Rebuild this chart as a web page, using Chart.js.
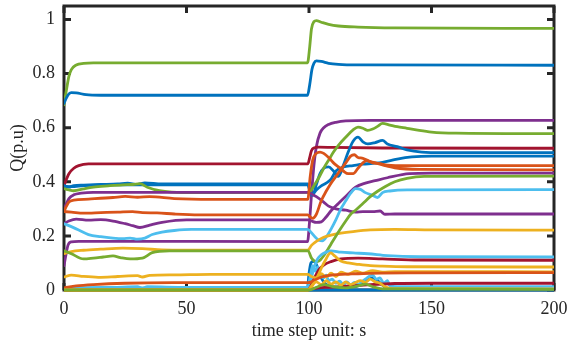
<!DOCTYPE html>
<html>
<head>
<meta charset="utf-8">
<script src="https://cdn.jsdelivr.net/npm/chart.js@4/dist/chart.umd.min.js"></script>
<style>
  html, body { margin: 0; padding: 0; background: #fff; }
  #wrap { width: 568px; height: 348px; position: relative; }
</style>
</head>
<body>
<div id="wrap"><canvas id="qChart"></canvas></div>
<script>
// axis ticks
const xTicks = [0, 50, 100, 150, 200];
const yTicks = [0, 0.2, 0.4, 0.6, 0.8, 1];

// reactive power of each unit, [time (s), Q (p.u)] samples
const greenTop = [[0,0.685],[1,0.74],[2,0.79],[3,0.815],[5,0.832],[8,0.838],[12,0.84],[99.4,0.84],[100.3,0.9],[101,0.965],[102,0.992],[103,0.996],[105,0.99],[108,0.982],[112,0.976],[120,0.972],[135,0.969],[200,0.967]];
const blueTop = [[0,0.69],[1,0.71],[2,0.725],[3,0.73],[5,0.729],[9,0.722],[15,0.72],[99.4,0.72],[100.3,0.76],[101.2,0.815],[102,0.838],[103,0.847],[105,0.845],[108,0.838],[112,0.834],[120,0.832],[200,0.831]];
const redJ = [[0,0.385],[1,0.41],[2,0.43],[4,0.45],[6,0.46],[10,0.466],[99.5,0.466],[100.3,0.49],[101,0.515],[102,0.525],[104,0.528],[110,0.527],[130,0.525],[200,0.524]];
const blueF = [[0,0.386],[2,0.38],[4,0.386],[8,0.388],[15,0.39],[22,0.392],[26,0.395],[30,0.39],[33,0.396],[40,0.392],[99.5,0.392],[100.5,0.36],[101.5,0.35],[103,0.39],[104.5,0.43],[106,0.45],[108,0.455],[110,0.44],[112,0.42],[114,0.46],[116,0.51],[118,0.55],[120,0.565],[122,0.548],[124,0.54],[127,0.545],[130,0.553],[132,0.54],[136,0.53],[140,0.518],[146,0.51],[155,0.508],[200,0.508]];
const blueG = [[0,0.384],[3,0.382],[8,0.386],[20,0.389],[40,0.389],[99.5,0.389],[100.5,0.365],[101.5,0.355],[103,0.37],[105,0.385],[107,0.395],[109,0.41],[111,0.44],[114,0.455],[118,0.46],[122,0.465],[126,0.468],[130,0.472],[136,0.484],[142,0.492],[150,0.495],[200,0.495]];
const greenD = [[0,0.375],[2,0.37],[4,0.367],[8,0.374],[12,0.38],[18,0.385],[24,0.389],[28,0.39],[31,0.393],[34,0.38],[39,0.367],[44,0.362],[55,0.36],[99.5,0.361],[100.5,0.365],[102,0.385],[104,0.415],[106,0.45],[108,0.48],[110,0.51],[112,0.535],[115,0.565],[118,0.592],[120,0.602],[122,0.598],[124,0.59],[126,0.595],[128,0.605],[130,0.616],[133,0.61],[136,0.604],[140,0.598],[145,0.59],[150,0.584],[160,0.58],[200,0.578]];
const purpleB = [[0,0.3],[1,0.32],[2,0.338],[4,0.352],[7,0.358],[12,0.361],[99.5,0.361],[101,0.355],[103,0.345],[106,0.325],[108,0.31],[111,0.3],[115,0.295],[119,0.288],[122,0.29],[126,0.29],[129,0.292],[131,0.28],[135,0.281],[200,0.281]];
const orangeH = [[0,0.29],[1,0.31],[2,0.325],[4,0.332],[10,0.336],[20,0.342],[25,0.346],[30,0.343],[35,0.345],[45,0.338],[60,0.335],[99.5,0.335],[100.5,0.42],[101.5,0.48],[103,0.505],[104.5,0.51],[106,0.505],[108,0.49],[110,0.47],[112,0.455],[114,0.44],[116,0.43],[118,0.43],[120,0.45],[122,0.47],[123.5,0.478],[126,0.47],[129,0.467],[132,0.462],[140,0.46],[200,0.46]];
const orangeI = [[0,0.29],[3,0.288],[8,0.284],[15,0.286],[22,0.288],[28,0.29],[32,0.286],[38,0.285],[45,0.281],[55,0.278],[99.5,0.278],[100.5,0.27],[101.5,0.265],[103,0.28],[105,0.33],[107,0.365],[109,0.395],[111,0.42],[113,0.445],[115,0.47],[117,0.495],[118.5,0.5],[120,0.49],[122,0.487],[125,0.475],[128,0.468],[131,0.46],[135,0.452],[145,0.446],[200,0.444]];
const purpleC = [[0,0.245],[2,0.255],[5,0.262],[10,0.258],[15,0.26],[20,0.255],[25,0.245],[28,0.238],[31,0.231],[35,0.24],[40,0.25],[50,0.259],[99.5,0.259],[101,0.255],[103,0.25],[105,0.252],[107,0.27],[109,0.293],[112,0.32],[116,0.355],[119,0.38],[123,0.395],[127,0.404],[132,0.415],[141,0.43],[150,0.432],[200,0.432]];
const cyanK = [[0,0.245],[2,0.238],[6,0.222],[10,0.205],[15,0.197],[20,0.192],[24,0.19],[27,0.192],[30,0.188],[33,0.192],[36,0.205],[40,0.214],[45,0.22],[52,0.224],[99.5,0.224],[101,0.212],[102.5,0.196],[104,0.184],[105.5,0.182],[107,0.195],[109,0.225],[111,0.26],[113,0.3],[115,0.33],[117,0.358],[119,0.375],[121,0.372],[123,0.36],[126,0.35],[128,0.342],[130,0.36],[133,0.366],[140,0.37],[200,0.371]];
const purpleA = [[0,0.09],[0.8,0.13],[1.6,0.165],[3,0.178],[6,0.18],[99.4,0.179],[100.2,0.25],[101,0.35],[102,0.46],[103,0.53],[104.5,0.58],[106,0.6],[108,0.612],[111,0.62],[115,0.625],[125,0.627],[200,0.627]];
const yellowL = [[0,0.134],[3,0.142],[8,0.147],[15,0.151],[24,0.155],[32,0.153],[40,0.148],[50,0.147],[99.5,0.147],[101,0.165],[103,0.18],[106,0.195],[109,0.203],[113,0.21],[118,0.216],[125,0.222],[135,0.224],[150,0.222],[200,0.221]];
const greenE = [[0,0.145],[3,0.134],[8,0.115],[12,0.118],[16,0.122],[20,0.126],[23,0.12],[27,0.115],[32,0.118],[36,0.138],[43,0.145],[99.6,0.145],[101,0.118],[102,0.108],[103.5,0.105],[105,0.115],[107,0.14],[109,0.17],[111,0.2],[113,0.228],[115,0.255],[117,0.28],[119,0.295],[122,0.32],[125,0.345],[128,0.365],[131,0.382],[135,0.4],[140,0.413],[147,0.42],[200,0.421]];
const yellowM = [[0,0.048],[3,0.055],[8,0.05],[14,0.047],[22,0.05],[30,0.053],[32,0.048],[35,0.054],[45,0.056],[60,0.058],[99.5,0.058],[101,0.05],[103,0.045],[105,0.06],[107,0.048],[109,0.062],[111,0.05],[113,0.066],[116,0.058],[119,0.07],[122,0.062],[126,0.072],[130,0.066],[135,0.068],[200,0.067]];
const orangeQ = [[0,0.008],[5,0.015],[12,0.02],[25,0.025],[45,0.027],[99.5,0.027],[101,0.03],[103,0.04],[106,0.05],[110,0.056],[120,0.06],[140,0.063],[200,0.064]];
const redP = [[0,0.0],[99.5,0.0],[100.5,0.01],[102,0.04],[104,0.075],[106,0.092],[109,0.105],[113,0.115],[120,0.118],[130,0.115],[145,0.111],[200,0.11]];
const cyanO = [[0,0.004],[5,0.008],[99.5,0.009],[100.5,0.03],[102,0.08],[103.5,0.115],[105,0.13],[107,0.14],[109,0.145],[113,0.14],[118,0.137],[124,0.134],[132,0.127],[145,0.123],[200,0.122]];
const yellowN = [[0,0.0],[99.5,0.0],[101,0.01],[102.5,0.035],[104,0.06],[105.5,0.09],[107,0.115],[108,0.132],[109,0.137],[110,0.13],[111.5,0.118],[113,0.107],[116,0.1],[120,0.095],[125,0.09],[130,0.088],[140,0.086],[200,0.085]];
const yellowW = [[0,0.0],[99.5,0.0],[101,0.015],[103,0.03],[105,0.02],[107,0.035],[109,0.022],[111,0.03],[113,0.018],[115,0.03],[117,0.02],[119,0.028],[121,0.035],[123,0.028],[125,0.04],[127,0.03],[129,0.025],[131,0.012],[134,0.005],[200,0.004]];
const greenU = [[0,0.0],[100,0.0],[103,0.01],[106,0.02],[110,0.012],[115,0.008],[120,0.015],[123,0.022],[126,0.012],[130,0.004],[200,0.002]];
const redR = [[0,0.0],[99.5,0.001],[101,0.004],[104,0.008],[108,0.01],[115,0.014],[125,0.02],[135,0.024],[150,0.025],[200,0.025]];
const cyanT = [[0,0.006],[10,0.009],[20,0.01],[30,0.012],[32,0.006],[34,0.012],[50,0.01],[99.5,0.01],[100.5,0.05],[101.5,0.09],[102.5,0.07],[103.5,0.085],[104.5,0.06],[106,0.045],[107,0.055],[108,0.035],[109.5,0.04],[111,0.025],[112.5,0.033],[114,0.02],[115.5,0.03],[117,0.018],[118.5,0.028],[120,0.02],[121.5,0.03],[123,0.04],[124.5,0.05],[126,0.055],[127.5,0.04],[129,0.045],[130.5,0.025],[132,0.035],[133,0.015],[136,0.012],[200,0.012]];
const blueS = [[0,0.002],[99.3,0.002],[100,0.06],[100.8,0.1],[101.8,0.106],[103,0.095],[104,0.07],[105,0.045],[106.5,0.025],[108,0.015],[111,0.01],[115,0.008],[119,0.012],[122,0.025],[124,0.038],[126,0.045],[128,0.035],[130,0.018],[132,0.006],[135,0.004],[200,0.003]];
const blueV = [[0,0.0],[200,0.0]];

const BLUE = '#0072BD', ORANGE = '#D95319', YELLOW = '#EDB120', PURPLE = '#7E2F8E',
      GREEN = '#77AC30', CYAN = '#4DBEEE', RED = '#A2142F';
const INK = '#262626';
const FONT = 'Liberation Serif, Times New Roman, serif';

// drawing order: first entry is drawn first (underneath)
const lines = [
  [greenU, GREEN], [yellowW, YELLOW], [orangeQ, ORANGE], [yellowM, YELLOW], [yellowN, YELLOW],
  [redP, RED], [cyanO, CYAN], [greenE, GREEN], [yellowL, YELLOW], [cyanK, CYAN],
  [purpleC, PURPLE], [orangeI, ORANGE], [orangeH, ORANGE], [purpleB, PURPLE], [greenD, GREEN],
  [blueG, BLUE], [blueF, BLUE], [redJ, RED], [purpleA, PURPLE], [blueTop, BLUE], [greenTop, GREEN],
  [redR, RED], [cyanT, CYAN], [blueS, BLUE], [blueV, BLUE],
];

// box frame with inward tick marks on all four sides
const boxAxes = {
  id: 'boxAxes',
  beforeDatasetsDraw(chart) {
    const { ctx, chartArea: a, scales: { x, y } } = chart;
    const len = 7;
    ctx.save();
    ctx.strokeStyle = INK;
    ctx.lineWidth = 3;
    ctx.strokeRect(a.left, a.top, a.right - a.left, a.bottom - a.top);
    ctx.beginPath();
    xTicks.forEach(v => {
      const p = x.getPixelForValue(v);
      ctx.moveTo(p, a.bottom); ctx.lineTo(p, a.bottom - len);
      ctx.moveTo(p, a.top); ctx.lineTo(p, a.top + len);
    });
    yTicks.forEach(v => {
      const p = y.getPixelForValue(v);
      ctx.moveTo(a.left, p); ctx.lineTo(a.left + len, p);
      ctx.moveTo(a.right, p); ctx.lineTo(a.right - len, p);
    });
    ctx.stroke();
    ctx.restore();
  }
};

new Chart(document.getElementById('qChart'), {
  type: 'line',
  data: {
    datasets: lines.map(([pts, color]) => ({
      data: pts.map(([t, q]) => ({ x: t, y: q })),
      borderColor: color,
      borderWidth: 2.8,
      pointRadius: 0,
      cubicInterpolationMode: 'monotone',
      borderJoinStyle: 'round',
      borderCapStyle: 'round',
      clip: { left: 0, top: 0, right: 0, bottom: 2 },
    })),
  },
  options: {
    responsive: true,
    maintainAspectRatio: false,
    animation: false,
    events: [],
    layout: { padding: { top: 6, right: 14, left: 0, bottom: 0 } },
    plugins: { legend: { display: false }, tooltip: { enabled: false } },
    scales: {
      x: {
        type: 'linear',
        min: 0,
        max: 200,
        afterBuildTicks: s => { s.ticks = xTicks.map(v => ({ value: v })); },
        afterFit: s => { s.height = 58; s.paddingLeft = 0; s.paddingRight = 0; },
        grid: { display: false, drawTicks: false },
        border: { display: false },
        ticks: { color: INK, padding: 8, font: { family: FONT, size: 18, lineHeight: 1.2 } },
        title: {
          display: true,
          text: 'time step unit: s',
          color: INK,
          padding: { top: 0, bottom: 6 },
          font: { family: FONT, size: 18, lineHeight: 1.2 },
        },
      },
      y: {
        min: 0,
        max: 1.05,
        afterBuildTicks: s => { s.ticks = yTicks.map(v => ({ value: v })); },
        afterFit: s => { s.width = 64; s.paddingTop = 0; s.paddingBottom = 0; },
        grid: { display: false, drawTicks: false },
        border: { display: false },
        ticks: {
          color: INK,
          padding: 9,
          font: { family: FONT, size: 18, lineHeight: 1.2 },
          callback: v => String(v),
        },
        title: {
          display: true,
          text: 'Q(p.u)',
          color: INK,
          padding: { top: 7, bottom: 0 },
          font: { family: FONT, size: 18, lineHeight: 1.2 },
        },
      },
    },
  },
  plugins: [boxAxes],
});
</script>
</body>
</html>
